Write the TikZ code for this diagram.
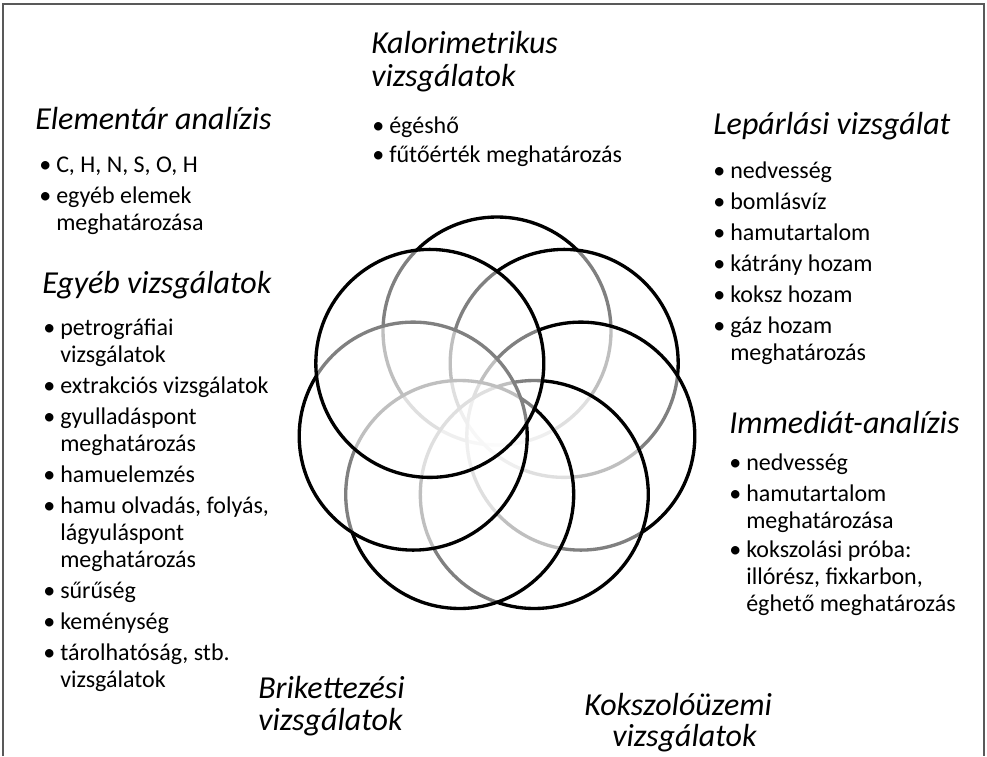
\documentclass[tikz,border=0pt]{standalone}
\usepackage{fontspec}
\setmainfont{Carlito}
\newcommand{\bi}{\makebox[12.75pt][l]{•}}
\newcommand{\bc}{\hspace*{12.75pt}}
\begin{document}
\begin{tikzpicture}[x=0.75pt,y=-0.75pt,
  ring/.style={circle, draw=black, line width=2.5pt, fill=white, fill opacity=0.5, draw opacity=1, minimum size=171pt, inner sep=0pt},
  heading/.style={anchor=base west, inner sep=0pt, font=\fontsize{24}{25.5}\selectfont\itshape},
  bullets/.style={anchor=base west, inner sep=0pt, font=\fontsize{18}{20.25}\selectfont},
  frame/.style={draw=black!65, line width=1.1pt}]
\useasboundingbox (0,0) rectangle (987,756);
\coordinate (f1) at (3,756);
\coordinate (f2) at (3,4);
\coordinate (f3) at (984,4);
\coordinate (f4) at (984,756);
\draw[frame] (f1) -- (f2) -- (f3) -- (f4);

% rings, drawn clockwise from the top
\node[ring] (r1) at (497,331) {};
\node[ring] (r2) at (564.2,363.4) {};
\node[ring] (r3) at (580.8,436.1) {};
\node[ring] (r4) at (534.3,494.5) {};
\node[ring] (r5) at (459.7,494.5) {};
\node[ring] (r6) at (413.2,436.1) {};
\node[ring] (r7) at (429.8,363.4) {};

% Elementar
\node[heading] (t1) at (35,129) {Elementár analízis};
\node[bullets] (l1) at (39,172) {\begin{tabular}[t]{@{}l@{}}
\bi C, H, N, S, O, H\\[3pt]
\bi egyéb elemek\\
\bc meghatározása
\end{tabular}};

% Kalorimetrikus
\node[heading] (t2) at (371,54) {\begin{tabular}[t]{@{}l@{}}Kalorimetrikus\\[-1pt] vizsgálatok\end{tabular}};
\node[bullets] (l2) at (372,133) {\begin{tabular}[t]{@{}l@{}}
\bi égéshő\\[2pt]
\bi fűtőérték meghatározás
\end{tabular}};

% Leparlasi
\node[heading] (t3) at (713,134) {Lepárlási vizsgálat};
\node[bullets] (l3) at (713,178) {\begin{tabular}[t]{@{}l@{}}
\bi nedvesség\\[3pt]
\bi bomlásvíz\\[3pt]
\bi hamutartalom\\[3pt]
\bi kátrány hozam\\[3pt]
\bi koksz hozam\\[3pt]
\bi gáz hozam\\
\bc meghatározás
\end{tabular}};

% Egyeb
\node[heading] (t4) at (42,293) {Egyéb vizsgálatok};
\node[bullets] (l4) at (43,335) {\begin{tabular}[t]{@{}l@{}}
\bi petrográfiai\\
\bc vizsgálatok\\[3pt]
\bi extrakciós vizsgálatok\\[3pt]
\bi gyulladáspont\\
\bc meghatározás\\[3pt]
\bi hamuelemzés\\[3pt]
\bi hamu olvadás, folyás,\\
\bc lágyuláspont\\
\bc meghatározás\\[3pt]
\bi sűrűség\\[3pt]
\bi keménység\\[3pt]
\bi tárolhatóság, stb.\\
\bc vizsgálatok
\end{tabular}};

% Immediat
\node[heading] (t5) at (729,433) {Immediát-analízis};
\node[bullets] (l5) at (729,470) {\begin{tabular}[t]{@{}l@{}}
\bi nedvesség\\[3pt]
\bi hamutartalom\\
\bc meghatározása\\[2pt]
\bi kokszolási próba:\\
\bc illórész, fixkarbon,\\
\bc éghető meghatározás
\end{tabular}};

% bottom headings
\node[heading] (t6) at (258,698) {\begin{tabular}[t]{@{}l@{}}Brikettezési\\[-1pt] vizsgálatok\end{tabular}};
\node[heading] (t7) at (584,715) {\begin{tabular}[t]{@{}l@{}}Kokszolóüzemi\\[-2pt] \hspace*{21pt}vizsgálatok\end{tabular}};
\end{tikzpicture}
\end{document}
